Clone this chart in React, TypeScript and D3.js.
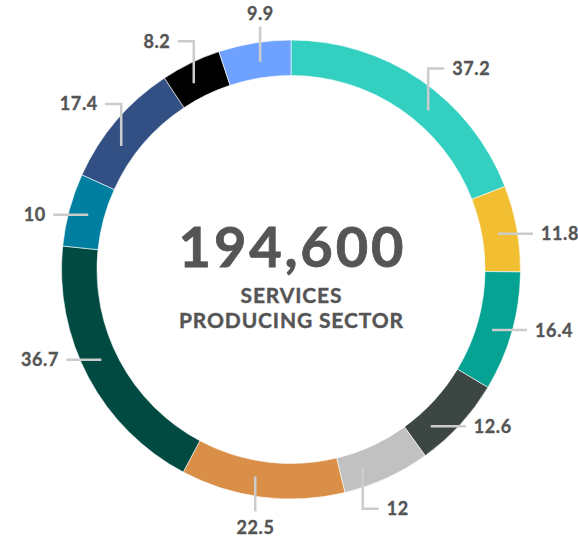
import React from "react";
import * as d3 from "d3";

const categories = ["A", "B", "C", "D", "E", "F", "G", "H", "I", "J", "K"];
const values = [37.2, 11.8, 16.4, 12.6, 12, 22.5, 36.7, 10, 17.4, 8.2, 9.9];
const valueLabels = ["37.2", "11.8", "16.4", "12.6", "12", "22.5", "36.7", "10", "17.4", "8.2", "9.9"];
const colors = ["#33cfc1", "#f2bf33", "#06a394", "#3c4744", "#c1c1c1", "#d98f48", "#004a42", "#007fa1", "#335085", "#000000", "#6fa2ff"];
const totalLabel = "194,600";
const subtitleLines = ["SERVICES", "PRODUCING SECTOR"];

// label layout: leader style and small angular nudge (degrees)
const leaderStyle = ["up-right", "right", "right", "right", "down-right", "down", "left", "left", "up-left", "up-left", "up"];
const leaderNudge = [6.4, 0.5, 1, 5.7, 4.7, 2.6, 2.6, 0, -4.4, -1.7, 0.7];

const W = 578, H = 542;
const cx = 291, cy = 269.5;
const rOuter = 229.5, rInner = 194;
const rAnchor = 210;
const straight = 35, vert = 42, elbow = 16, gap = 8;
const textColor = "#555555";
const lineColor = "#cccccc";
const font = "Lato, 'Open Sans', sans-serif";

export default function App() {
  const pie = d3.pie<number>().sort(null).value((d) => d).startAngle(0).endAngle(2 * Math.PI);
  const arcs = pie(values);
  const arcGen = d3.arc<d3.PieArcDatum<number>>().innerRadius(rInner).outerRadius(rOuter);

  const lblLs = 0.6;
  return (
    <svg width={W} height={H} style={{ position: "absolute", left: 0, top: 0, background: "#fff" }}>
      <g transform={`translate(${cx},${cy})`}>
        {arcs.map((a, i) => (
          <path key={categories[i]} d={arcGen(a) || ""} fill={colors[i]} stroke="#fff" strokeWidth={0.6} />
        ))}
        {arcs.map((a, i) => {
          const ang = (a.startAngle + a.endAngle) / 2 + (leaderNudge[i] * Math.PI) / 180;
          const x0 = rAnchor * Math.sin(ang);
          const y0 = -rAnchor * Math.cos(ang);
          const st = leaderStyle[i];
          let pts: [number, number][] = [];
          let tx = 0, ty = 0, anchor = "start";
          const capHalf = 6.5;
          if (st === "right") {
            pts = [[x0, y0], [x0 + straight, y0]];
            tx = x0 + straight + gap; ty = y0 + capHalf; anchor = "start";
          } else if (st === "left") {
            pts = [[x0, y0], [x0 - straight, y0]];
            tx = x0 - straight - gap + lblLs; ty = y0 + capHalf; anchor = "end";
          } else if (st === "up") {
            pts = [[x0, y0], [x0, y0 - straight]];
            tx = x0 + lblLs / 2; ty = y0 - straight - 7; anchor = "middle";
          } else if (st === "down") {
            pts = [[x0, y0], [x0, y0 + straight]];
            tx = x0 + lblLs / 2; ty = y0 + straight + 23; anchor = "middle";
          } else if (st === "up-right") {
            pts = [[x0, y0], [x0, y0 - vert], [x0 + elbow, y0 - vert]];
            tx = x0 + elbow + gap; ty = y0 - vert + capHalf; anchor = "start";
          } else if (st === "up-left") {
            pts = [[x0, y0], [x0, y0 - vert], [x0 - elbow, y0 - vert]];
            tx = x0 - elbow - gap + lblLs; ty = y0 - vert + capHalf; anchor = "end";
          } else if (st === "down-right") {
            pts = [[x0, y0], [x0, y0 + vert], [x0 + elbow, y0 + vert]];
            tx = x0 + elbow + gap; ty = y0 + vert + capHalf; anchor = "start";
          }
          const line = d3.line()(pts) || "";
          return (
            <g key={"l" + i}>
              <path d={line} fill="none" stroke={lineColor} strokeWidth={2.5} />
              <text x={tx} y={ty} textAnchor={anchor} fontFamily={font} fontWeight={700} fontSize={18}
                letterSpacing={lblLs} fill={textColor} stroke={textColor} strokeWidth={0.35}>
                {valueLabels[i]}
              </text>
            </g>
          );
        })}
        <text x={1.4} y={-2.5} textAnchor="middle" fontFamily={font} fontWeight={700} fontSize={56}
          letterSpacing={2.8} fill={textColor} stroke={textColor} strokeWidth={0.8}>
          {totalLabel}
        </text>
        <text x={0.4} y={33.5} textAnchor="middle" fontFamily={font} fontWeight={700} fontSize={21}
          letterSpacing={0.85} fill={textColor} stroke={textColor} strokeWidth={0.4}>
          {subtitleLines[0]}
        </text>
        <text x={0.4} y={58.5} textAnchor="middle" fontFamily={font} fontWeight={700} fontSize={21}
          letterSpacing={0.85} fill={textColor} stroke={textColor} strokeWidth={0.4}>
          {subtitleLines[1]}
        </text>
      </g>
    </svg>
  );
}
